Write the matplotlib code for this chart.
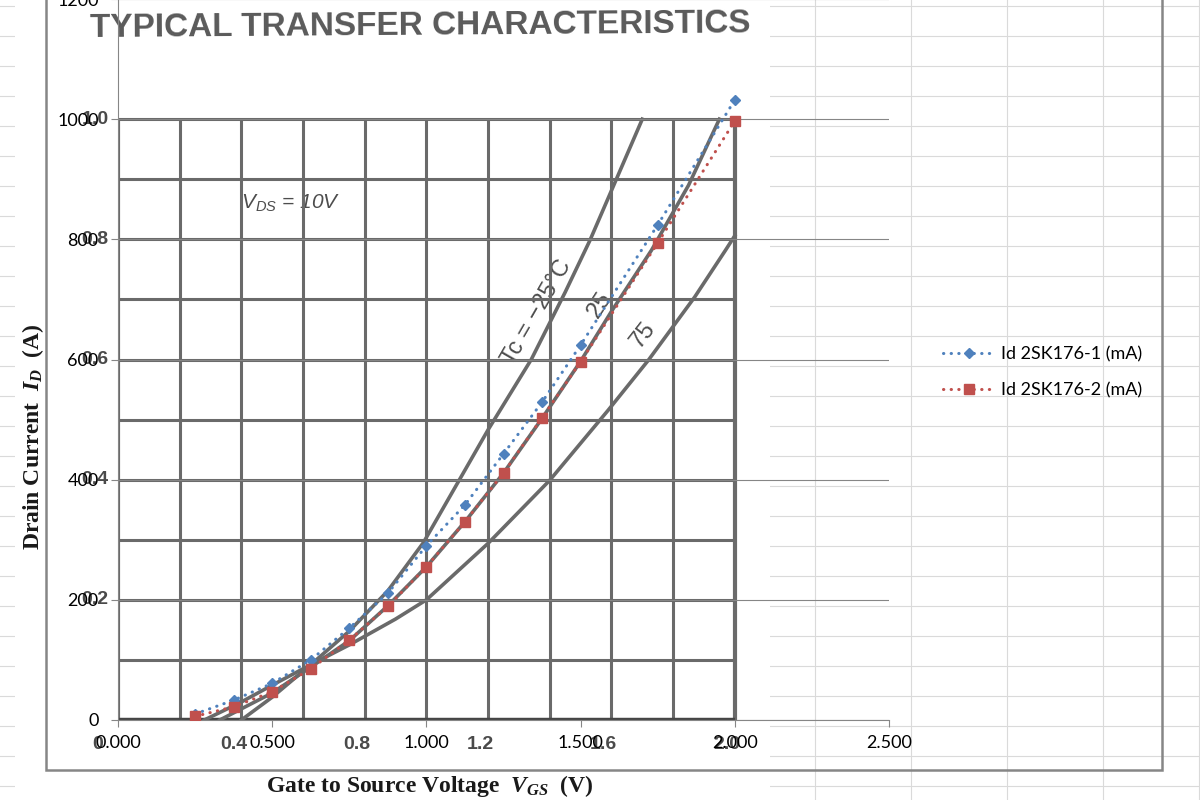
import numpy as np
import matplotlib.pyplot as plt
from matplotlib.patches import Rectangle

plt.rcParams['font.family'] = ['Lato', 'DejaVu Sans']
plt.rcParams['mathtext.fontset'] = 'custom'
plt.rcParams['mathtext.it'] = 'Liberation Serif:italic:bold'
plt.rcParams['mathtext.rm'] = 'Liberation Serif:bold'
plt.rcParams['mathtext.sf'] = 'Liberation Sans:italic'

# Mesures (Vgs en V, Id en mA)
vgs = [0.25, 0.375, 0.5, 0.625, 0.75, 0.875, 1.0, 1.125, 1.25, 1.375, 1.5, 1.75, 2.0]
id_1 = [10, 33, 61, 100, 153, 211, 290, 358, 443, 529, 624, 824, 1032]
id_2 = [6, 22, 47, 85, 133, 189, 255, 330, 411, 503, 596, 794, 997]
labels = ['Id 2SK176-1 (mA)', 'Id 2SK176-2 (mA)']

# Courbes de la datasheet (V, A)
tc_m25_v = [0.40, 0.50, 0.625, 0.75, 0.875, 0.99, 1.20, 1.34, 1.45, 1.53, 1.61, 1.70]
tc_m25_a = [0.0, 0.038, 0.092, 0.148, 0.215, 0.295, 0.483, 0.600, 0.712, 0.798, 0.893, 1.0]
tc_25_v = [0.33, 0.5, 0.625, 0.75, 0.875, 1.0, 1.125, 1.25, 1.375, 1.5, 1.6, 1.73, 1.85, 1.95]
tc_25_a = [0.0, 0.045, 0.088, 0.132, 0.19, 0.255, 0.33, 0.411, 0.502, 0.597, 0.68, 0.782, 0.89, 1.0]
tc_75_v = [0.28, 0.4, 0.5, 0.625, 0.75, 0.9, 1.0, 1.2, 1.4, 1.59, 1.72, 1.87, 1.97, 2.0]
tc_75_a = [0.0, 0.03, 0.058, 0.092, 0.125, 0.168, 0.2, 0.294, 0.399, 0.516, 0.599, 0.704, 0.782, 0.806]

# Graduations
x_ticks = [0.0, 0.5, 1.0, 1.5, 2.0, 2.5]
x_ticklabels = ['0.000', '0.500', '1.000', '1.500', '2.000', '2.500']
y_ticks = [0, 200, 400, 600, 800, 1000, 1200]
ds_v_grid = [0.0, 0.2, 0.4, 0.6, 0.8, 1.0, 1.2, 1.4, 1.6, 1.8, 2.0]
ds_a_grid = [0.0, 0.1, 0.2, 0.3, 0.4, 0.5, 0.6, 0.7, 0.8, 0.9, 1.0]
ds_v_labels = ['0', '0.4', '0.8', '1.2', '1.6', '2.0']
ds_v_label_pos = [0.0, 0.4, 0.8, 1.2, 1.6, 2.0]
ds_a_labels = ['0.2', '0.4', '0.6', '0.8', '1.0']
ds_a_label_pos = [0.2, 0.4, 0.6, 0.8, 1.0]

ds_gray = '#6a6a6a'
ds_text = '#4d4d4d'

fig = plt.figure(figsize=(12, 8), dpi=100)

# fond : feuille de calcul + image de la datasheet (coordonnées en pixels)
bg = fig.add_axes([0, 0, 1, 1])
bg.set_xlim(0, 1200)
bg.set_ylim(800, 0)
bg.axis('off')
for y in np.arange(6, 800, 30):
    bg.axhline(y, color='#dadada', lw=0.8, zorder=0)
for x in np.arange(46, 1200, 96.1):
    bg.axvline(x, color='#dadada', lw=0.8, zorder=0)
bg.add_patch(Rectangle((15, -5), 755, 810, facecolor='white', edgecolor='none', zorder=1))
bg.add_patch(Rectangle((46, -20), 1116, 790, fill=False, edgecolor='#868686', lw=1.8, zorder=5))

bg.text(420, 26, 'TYPICAL TRANSFER CHARACTERISTICS', ha='center', va='center', rotation=0.4,
        family='Liberation Sans', weight='heavy', size=24, color='#5a5a5a', zorder=2)
bg.text(291, 203, r'$\mathsf{V_{DS}}$ = 10V', ha='center', va='center', family='Liberation Sans',
        style='italic', size=15, color=ds_text, zorder=2)
bg.text(537, 312, 'Tc = \u221225\u00b0C', ha='center', va='center', rotation=60,
        family='Liberation Sans', size=17, color=ds_text, zorder=2)
bg.text(600, 305, '25', ha='center', va='center', rotation=57,
        family='Liberation Sans', size=17, color=ds_text, zorder=2)
bg.text(643, 335, '75', ha='center', va='center', rotation=52,
        family='Liberation Sans', size=17, color=ds_text, zorder=2)
bg.text(430, 786, r'Gate to Source Voltage  $V_{GS}$  (V)', ha='center', va='center',
        family='Liberation Serif', weight='bold', size=17, color='#1a1a1a', zorder=2)
bg.text(33, 437, r'Drain Current  $I_D$  (A)', ha='center', va='center', rotation=90,
        family='Liberation Serif', weight='bold', size=17, color='#1a1a1a', zorder=2)

# graphique Excel
ax = fig.add_axes([118 / 1200, 80 / 800, 771 / 1200, 721 / 800])
ax.set_facecolor('none')

# grille et courbes de la datasheet
for v in ds_v_grid:
    lw = 3.0 if v in (0.0, 2.0) else 2.2
    ax.plot([v, v], [0, 1000], color=ds_gray, lw=lw, zorder=1, solid_capstyle='butt')
for a in ds_a_grid:
    lw = 3.2 if a == 0.0 else 2.2
    c = '#444444' if a == 0.0 else ds_gray
    ax.plot([0, 2.0], [a * 1000, a * 1000], color=c, lw=lw, zorder=1, solid_capstyle='butt')
for cv, ca in [(tc_m25_v, tc_m25_a), (tc_25_v, tc_25_a), (tc_75_v, tc_75_a)]:
    ax.plot(cv, np.array(ca) * 1000, color=ds_gray, lw=2.6, zorder=1.2)

for lab, p in zip(ds_a_labels, ds_a_label_pos):
    ax.text(-0.03, p * 1000, lab, ha='right', va='center', family='Liberation Sans',
            weight='bold', size=14, color='#4a4a4a', clip_on=False, zorder=1)
for lab, p in zip(ds_v_labels, ds_v_label_pos):
    dx = -0.065 if p == 0 else -0.025
    ax.text(p + dx, -40, lab, ha='center', va='center', family='Liberation Sans',
            weight='bold', size=14, color='#4a4a4a', clip_on=False, zorder=1)

# séries
ax.plot(vgs, id_1, color='#4F81BD', ls=(0, (0.1, 2.4)), lw=2.2, dash_capstyle='round',
        marker='D', ms=5, label=labels[0], zorder=4)
ax.plot(vgs, id_2, color='#C0504D', ls=(0, (0.1, 2.4)), lw=2.2, dash_capstyle='round',
        marker='s', ms=7, label=labels[1], zorder=4)

ax.set_xlim(0, 2.5)
ax.set_ylim(0, 1200)
ax.set_xticks(x_ticks)
ax.set_xticklabels(x_ticklabels)
ax.set_yticks(y_ticks)
ax.yaxis.grid(True, color='#868686', lw=0.8)
for s in ['top', 'right']:
    ax.spines[s].set_visible(False)
for s in ['left', 'bottom']:
    ax.spines[s].set_color('#868686')
    ax.spines[s].set_linewidth(0.8)
ax.tick_params(axis='both', direction='out', length=5, width=0.8, color='#868686',
               labelsize=13, labelcolor='black')
ax.tick_params(axis='x', pad=6)
ax.tick_params(axis='y', pad=9)

ax.legend(loc='center left', bbox_to_anchor=(927 / 1200, 1 - 372 / 800),
          bbox_transform=fig.transFigure, frameon=False, fontsize=13,
          handlelength=2.9, handletextpad=0.3, labelspacing=1.1)

fig.savefig('out.png', dpi=100)
